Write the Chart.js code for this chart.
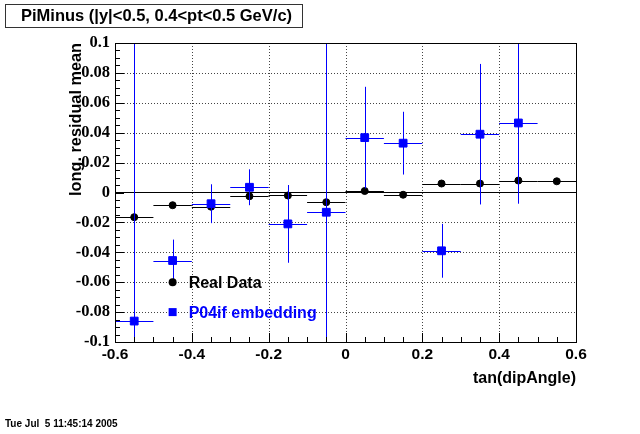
<!DOCTYPE html>
<html><head><meta charset="utf-8">
<script src="https://cdn.jsdelivr.net/npm/chart.js@4.4.0/dist/chart.umd.min.js"></script>
<style>html,body{margin:0;padding:0;background:#fff;overflow:hidden}#wrap{width:640px;height:434px;position:relative}canvas{display:block}</style>
</head><body><div id="wrap"><canvas id="c" width="640" height="434" style="width:640px;height:434px"></canvas></div>
<script>
// ---- data ----
const binCenters = [-0.55,-0.45,-0.35,-0.25,-0.15,-0.05,0.05,0.15,0.25,0.35,0.45,0.55];
const binHalfWidth = 0.05;
const realData = [-0.0165,-0.0085,-0.0095,-0.0025,-0.002,-0.0065,0.001,-0.0015,0.006,0.006,0.008,0.0075];
const realErr  = [0.001,0.001,0.001,0.001,0.001,0.001,0.001,0.001,0.001,0.001,0.001,0.001];
const embedData = [-0.086,-0.0455,-0.0075,0.0035,-0.021,-0.0132,0.0367,0.033,-0.039,0.039,0.0465,null];
const embedErr  = [0.2,0.014,0.013,0.012,0.026,0.2,0.034,0.021,0.018,0.047,0.054,null];
const xTicks = [-0.6,-0.4,-0.2,0,0.2,0.4,0.6];
const xTickLabels = ['-0.6','-0.4','-0.2','0','0.2','0.4','0.6'];
const yTicks = [-0.1,-0.08,-0.06,-0.04,-0.02,0,0.02,0.04,0.06,0.08,0.1];
const yTickLabels = ['-0.1','-0.08','-0.06','-0.04','-0.02','0','0.02','0.04','0.06','0.08','0.1'];
const titleText = 'PiMinus (|y|<0.5, 0.4<pt<0.5 GeV/c)';
const xTitle = 'tan(dipAngle)';
const yTitle = 'long. residual mean';
const legendLabels = ['Real Data','P04if embedding'];
const legendPos = [[-0.45,-0.06],[-0.45,-0.08]];
const dateText = 'Tue Jul  5 11:45:14 2005';

const BLUE = '#0000ff';
const SANS = '"Liberation Sans", Arial, Helvetica, sans-serif';
const SERIF = '"Liberation Serif", "Times New Roman", serif';

const toPts = (ys) => binCenters.map((x,i)=>({x:x,y:ys[i]})).filter(p=>p.y!==null);

const rootPlugin = {
  id:'rootStyle',
  beforeDatasetsDraw(chart){
    const {ctx, chartArea:a, scales:{x,y}} = chart;
    ctx.save();
    ctx.strokeStyle = '#444'; ctx.lineWidth = 1; ctx.setLineDash([1,2]);
    xTicks.forEach(v=>{ if (v<=-0.6||v>=0.6) return; const px=Math.round(x.getPixelForValue(v))+0.5;
      ctx.beginPath(); ctx.moveTo(px,a.top); ctx.lineTo(px,a.bottom); ctx.stroke(); });
    yTicks.forEach(v=>{ if (Math.abs(v)>=0.1||v===0) return; const py=Math.round(y.getPixelForValue(v))+0.5;
      ctx.beginPath(); ctx.moveTo(a.left,py); ctx.lineTo(a.right,py); ctx.stroke(); });
    ctx.restore();
  },
  beforeDatasetDraw(chart, args){
    const {ctx, chartArea:a, scales:{x,y}} = chart;
    let vals, errs, color;
    if (args.index===1){ vals=realData; errs=realErr; color='#000000'; }
    else if (args.index===2){ vals=embedData; errs=embedErr; color=BLUE; }
    else return;
    ctx.save();
    ctx.beginPath(); ctx.rect(a.left,a.top,a.right-a.left,a.bottom-a.top); ctx.clip();
    ctx.strokeStyle=color; ctx.lineWidth=1;
    binCenters.forEach((c,i)=>{
      if (vals[i]===null) return;
      const px=Math.round(x.getPixelForValue(c))+0.5, py=Math.round(y.getPixelForValue(vals[i]))+0.5;
      const x1=x.getPixelForValue(c-binHalfWidth), x2=x.getPixelForValue(c+binHalfWidth);
      const y1=y.getPixelForValue(vals[i]+errs[i]), y2=y.getPixelForValue(vals[i]-errs[i]);
      ctx.beginPath(); ctx.moveTo(x1,py); ctx.lineTo(x2,py); ctx.moveTo(px,y1); ctx.lineTo(px,y2); ctx.stroke();
    });
    ctx.restore();
  },
  afterDraw(chart){
    const {ctx, chartArea:a, scales:{x,y}} = chart;
    ctx.save();
    ctx.lineWidth=1; ctx.strokeStyle='#000';
    ctx.strokeRect(Math.round(a.left)+0.5, Math.round(a.top)+0.5, Math.round(a.right-a.left), Math.round(a.bottom-a.top));
    ctx.beginPath();
    for (let k=0;k<=24;k++){ const v=-0.6+k*0.05; const px=Math.round(x.getPixelForValue(v))+0.5;
      const L=(k%4===0)?9:5; ctx.moveTo(px,a.bottom); ctx.lineTo(px,a.bottom-L); }
    for (let k=0;k<=40;k++){ const v=-0.1+k*0.005; const py=Math.round(y.getPixelForValue(v))+0.5;
      const L=(k%4===0)?9:5; ctx.moveTo(a.left,py); ctx.lineTo(a.left+L,py); }
    ctx.stroke();
    ctx.strokeStyle='#333';
    ctx.strokeRect(5.5,4.5,297,23);
    ctx.fillStyle='#000'; ctx.font='bold 16.5px '+SANS; ctx.textBaseline='middle'; ctx.textAlign='left';
    ctx.fillText(titleText, 21, 16.5);
    const colors=['#000',BLUE];
    legendLabels.forEach((t,i)=>{
      const px=x.getPixelForValue(legendPos[i][0]), py=y.getPixelForValue(legendPos[i][1]);
      ctx.fillStyle=colors[i];
      if(i===0){ ctx.beginPath(); ctx.arc(px,py,4,0,Math.PI*2); ctx.fill(); }
      else { ctx.fillRect(px-4,py-4,8,8); }
      ctx.font='bold 16px '+SANS; ctx.textBaseline='middle';
      ctx.fillText(t, px+16, py+1);
    });
    ctx.fillStyle='#000'; ctx.font='bold 10px '+SANS; ctx.textBaseline='middle';
    ctx.fillText(dateText, 5, 424);
    ctx.restore();
  }
};

new Chart(document.getElementById('c'), {
  type:'scatter',
  data:{ datasets:[
    { type:'line', label:'zero', data:[{x:-0.6,y:0},{x:0.6,y:0}], borderColor:'#000', borderWidth:1, pointRadius:0, order:3 },
    { label:legendLabels[0], data:toPts(realData), pointStyle:'circle', pointRadius:3.5, borderWidth:1,
      backgroundColor:'#000', borderColor:'#000', order:2 },
    { label:legendLabels[1], data:toPts(embedData), pointStyle:'rect', pointRadius:5.5, borderWidth:1,
      backgroundColor:BLUE, borderColor:BLUE, order:1 }
  ]},
  options:{
    responsive:false, animation:false, devicePixelRatio:1,
    layout:{ padding:{ left:0, top:43, right:64, bottom:42 } },
    plugins:{ legend:{display:false}, tooltip:{enabled:false}, title:{display:false} },
    scales:{
      x:{ type:'linear', min:-0.6, max:0.6,
        afterBuildTicks:(s)=>{ s.ticks = xTicks.map(v=>({value:v})); },
        afterFit:(s)=>{ s.height=50; },
        grid:{display:false, drawTicks:false}, border:{display:false},
        ticks:{ autoSkip:false, maxRotation:0, padding:3, color:'#000', font:{family:SANS, size:15.5, weight:'bold'},
          callback:(v,i)=>xTickLabels[i] },
        title:{ display:true, text:xTitle, align:'end', color:'#000', padding:{top:0,bottom:4}, font:{family:SANS,size:16,weight:'bold'} }
      },
      y:{ type:'linear', min:-0.1, max:0.1,
        afterBuildTicks:(s)=>{ s.ticks = yTicks.map(v=>({value:v})); },
        afterFit:(s)=>{ s.width=115; },
        grid:{display:false, drawTicks:false}, border:{display:false},
        ticks:{ autoSkip:false, padding:5, color:'#000', font:{family:SERIF, size:16.5, weight:'bold'},
          callback:(v,i)=>yTickLabels[i] },
        title:{ display:true, text:yTitle, align:'end', color:'#000', padding:{top:67,bottom:0}, font:{family:SANS,size:16.3,weight:'bold'} }
      }
    }
  },
  plugins:[rootPlugin]
});
</script></body></html>
